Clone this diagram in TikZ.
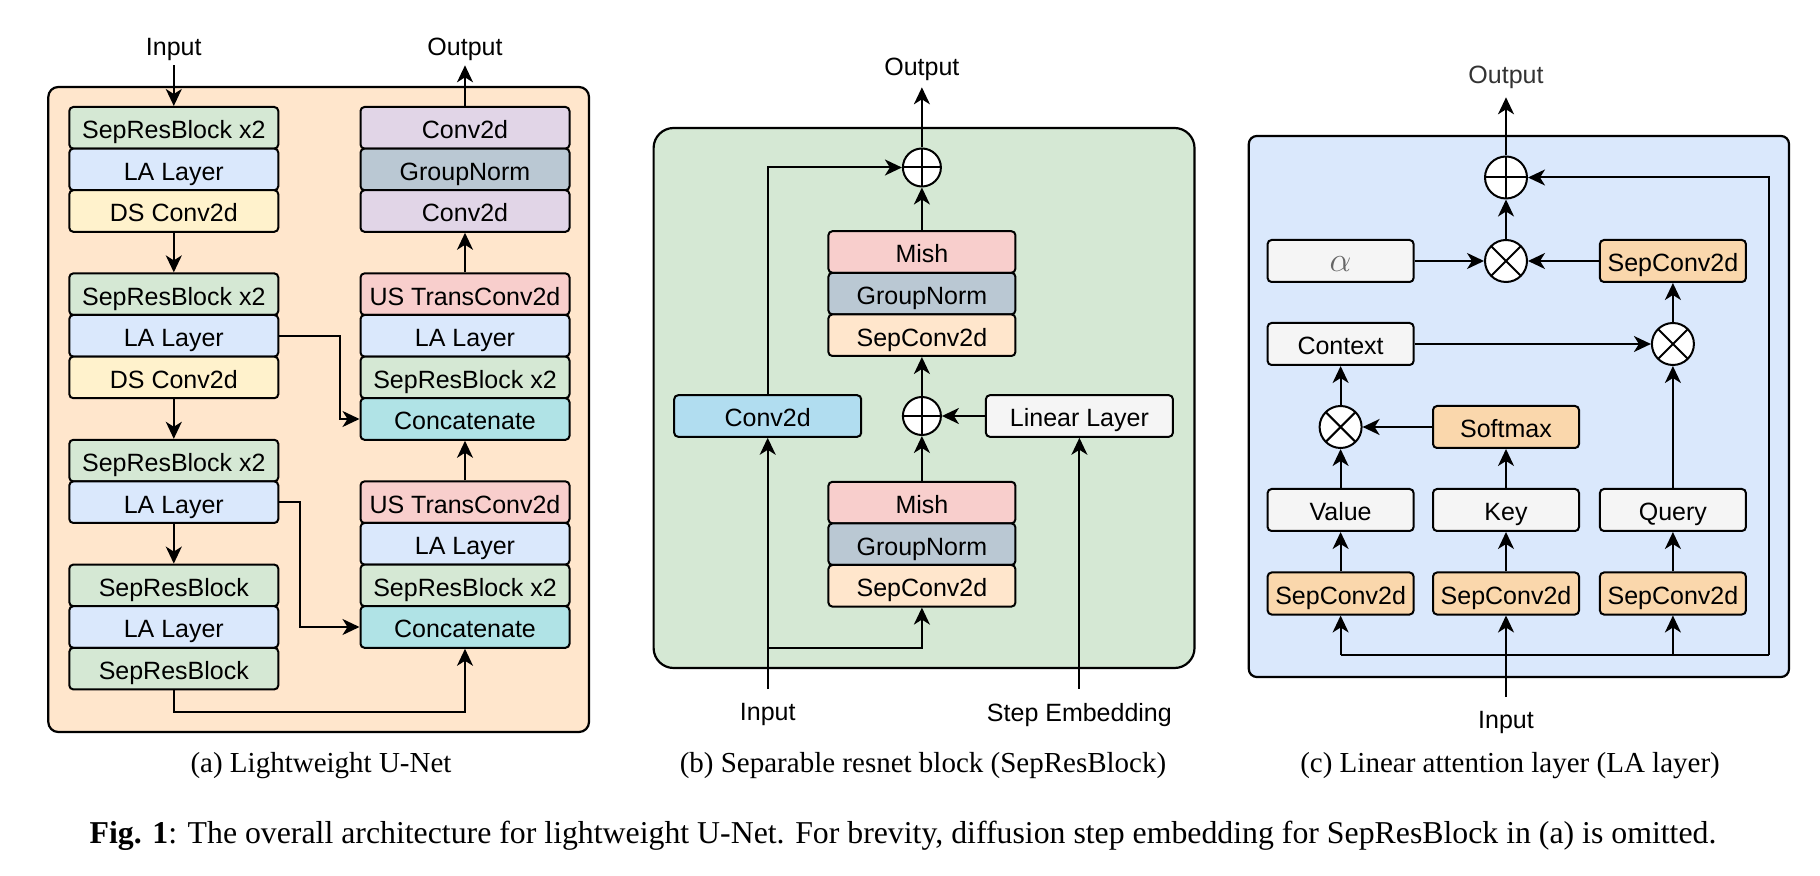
\documentclass[tikz,border=0pt]{standalone}
\usepackage{fontspec}
\setmainfont{Liberation Serif}
\setsansfont{Liberation Sans}
\usetikzlibrary{arrows.meta}

\definecolor{bgA}{HTML}{FFE6CC}
\definecolor{bgB}{HTML}{D5E8D4}
\definecolor{bgC}{HTML}{DAE8FC}
\definecolor{srbGreen}{HTML}{D5E8D4}
\definecolor{laBlue}{HTML}{DAE8FC}
\definecolor{dsYellow}{HTML}{FFF2CC}
\definecolor{convPurple}{HTML}{E1D5E7}
\definecolor{gnGray}{HTML}{BAC8D3}
\definecolor{usRed}{HTML}{F8CECC}
\definecolor{catTeal}{HTML}{B0E3E6}
\definecolor{sepPeach}{HTML}{FFE6CC}
\definecolor{convCyan}{HTML}{B1DDF0}
\definecolor{plainGray}{HTML}{F5F5F5}
\definecolor{sepOrange}{HTML}{FAD7AC}
\definecolor{alphaGray}{HTML}{666666}

\tikzset{
  blk/.style={draw, line width=1pt, rounded corners=2pt, inner sep=0pt,
    minimum height=20.8pt, text height=11.5pt, text depth=0.5pt,
    font=\sffamily\fontsize{12.5}{15}\selectfont},
  blkA/.style={blk, minimum width=104.5pt},
  blkB/.style={blk, minimum width=93.5pt},
  blkC/.style={blk, minimum width=73pt, minimum height=21pt},
  lbl/.style={font=\sffamily\fontsize{12.5}{15}\selectfont, inner sep=2pt},
  subcap/.style={font=\fontsize{14.5}{17}\selectfont},
  figcap/.style={font=\fontsize{15.9}{19}\selectfont},
  arr/.style={line width=1pt, -{Stealth[length=8.5pt,width=8pt,inset=2.5pt]}},
  wire/.style={line width=1pt},
  panel/.style={draw, line width=1.1pt, fill=#1},
  oplus/.style={circle, draw, line width=1pt, fill=white, minimum size=#1, inner sep=0pt,
    path picture={\draw[line width=1pt]
      (path picture bounding box.north) -- (path picture bounding box.south)
      (path picture bounding box.west) -- (path picture bounding box.east);}},
  otimes/.style={circle, draw, line width=1pt, fill=white, minimum size=#1, inner sep=0pt,
    path picture={\draw[line width=1pt]
      (path picture bounding box.north west) -- (path picture bounding box.south east)
      (path picture bounding box.north east) -- (path picture bounding box.south west);}}
}

\begin{document}
\begin{tikzpicture}[x=0.5pt, y=-0.5pt]
    \useasboundingbox (0,0) rectangle (1820,876);

    % (a) Lightweight U-Net
    \begin{scope}
        \draw[panel=bgA, rounded corners=5pt] (48.3,87) rectangle (589,732);
        \node[lbl] (inA) at (173.8,49.6) {Input};
        \node[lbl] (outA) at (465,49.6) {Output};

        % down path
        \node[blkA, fill=srbGreen] (e1a) at (173.8,127.8) {SepResBlock x2};
        \node[blkA, fill=laBlue] (e1b) at (173.8,169.4) {LA Layer};
        \node[blkA, fill=dsYellow] (e1c) at (173.8,211) {DS Conv2d};
        \node[blkA, fill=srbGreen] (e2a) at (173.8,294.2) {SepResBlock x2};
        \node[blkA, fill=laBlue] (e2b) at (173.8,335.8) {LA Layer};
        \node[blkA, fill=dsYellow] (e2c) at (173.8,377.4) {DS Conv2d};
        \node[blkA, fill=srbGreen] (e3a) at (173.8,460.6) {SepResBlock x2};
        \node[blkA, fill=laBlue] (e3b) at (173.8,502.2) {LA Layer};
        \node[blkA, fill=srbGreen] (m1) at (173.8,585.4) {SepResBlock};
        \node[blkA, fill=laBlue] (m2) at (173.8,627) {LA Layer};
        \node[blkA, fill=srbGreen] (m3) at (173.8,668.6) {SepResBlock};

        % up path
        \node[blkA, fill=convPurple] (o1) at (465,127.8) {Conv2d};
        \node[blkA, fill=gnGray] (o2) at (465,169.4) {GroupNorm};
        \node[blkA, fill=convPurple] (o3) at (465,211) {Conv2d};
        \node[blkA, fill=usRed] (d2a) at (465,294.2) {US TransConv2d};
        \node[blkA, fill=laBlue] (d2b) at (465,335.8) {LA Layer};
        \node[blkA, fill=srbGreen] (d2c) at (465,377.4) {SepResBlock x2};
        \node[blkA, fill=catTeal] (d2d) at (465,419) {Concatenate};
        \node[blkA, fill=usRed] (d1a) at (465,502.2) {US TransConv2d};
        \node[blkA, fill=laBlue] (d1b) at (465,543.8) {LA Layer};
        \node[blkA, fill=srbGreen] (d1c) at (465,585.4) {SepResBlock x2};
        \node[blkA, fill=catTeal] (d1d) at (465,627) {Concatenate};

        \draw[arr] (inA) -- (e1a);
        \draw[arr] (e1c) -- (e2a);
        \draw[arr] (e2c) -- (e3a);
        \draw[arr] (e3b) -- (m1);
        \draw[arr] (m3.south) -- ++(0,21.6) -| (d1d.south);
        \draw[arr] (e2b.east) -- ++(60.7,0) |- (d2d.west);
        \draw[arr] (e3b.east) -- ++(20.4,0) |- (d1d.west);
        \draw[arr] (d1a) -- (d2d);
        \draw[arr] (d2a) -- (o3);
        \draw[arr] (o1) -- (outA);

        \node[subcap] (capA) at (321,766) {(a) Lightweight U-Net};
    \end{scope}

    % (b) SepResBlock
    \begin{scope}
        \draw[panel=bgB, rounded corners=10pt] (653.6,128) rectangle (1194.5,668);
        \node[lbl, inner ysep=3pt] (outB) at (921.9,69.6) {Output};
        \node[oplus=19pt] (addTop) at (921.9,167.5) {};
        \node[blkB, fill=usRed] (u1) at (921.9,252) {Mish};
        \node[blkB, fill=gnGray] (u2) at (921.9,293.6) {GroupNorm};
        \node[blkB, fill=sepPeach] (u3) at (921.9,335.2) {SepConv2d};
        \node[oplus=19pt] (addMid) at (921.9,416) {};
        \node[blkB, fill=convCyan] (conv) at (767.7,416) {Conv2d};
        \node[blkB, fill=plainGray] (lin) at (1079.4,416) {Linear Layer};
        \node[blkB, fill=usRed] (l1) at (921.9,502.6) {Mish};
        \node[blkB, fill=gnGray] (l2) at (921.9,544.2) {GroupNorm};
        \node[blkB, fill=sepPeach] (l3) at (921.9,585.8) {SepConv2d};
        \node[lbl, inner ysep=7pt] (inB) at (767.7,714.6) {Input};
        \node[lbl, inner ysep=7pt] (stepB) at (1079.4,714.6) {Step Embedding};
        \coordinate (brB) at (767.7,648);

        \draw[arr] (addTop) -- (outB);
        \draw[arr] (u1) -- (addTop);
        \draw[arr] (addMid) -- (u3);
        \draw[arr] (l1) -- (addMid);
        \draw[arr] (lin) -- (addMid);
        \draw[arr] (inB) -- (conv);
        \draw[arr] (conv.north) |- (addTop.west);
        \draw[arr] (brB) -| (l3.south);
        \draw[arr] (stepB) -- (lin);

        \node[subcap] (capB) at (923,766) {(b) Separable resnet block (SepResBlock)};
    \end{scope}

    % (c) LA layer
    \begin{scope}
        \draw[panel=bgC, rounded corners=4pt] (1248.8,136) rectangle (1789,677);
        \node[lbl, inner ysep=4pt, text=black!80] (outC) at (1506,77.6) {Output};
        \node[oplus=21pt] (plusC) at (1506,177.5) {};
        \node[otimes=21pt] (mulTop) at (1506,261) {};
        \node[blkC, fill=plainGray] (alpha) at (1340.6,261) {\color{alphaGray}\fontsize{17}{17}\selectfont$\alpha$};
        \node[blkC, fill=sepOrange] (sepTop) at (1672.9,261) {SepConv2d};
        \node[blkC, fill=plainGray] (ctx) at (1340.6,344) {Context};
        \node[otimes=21pt] (mulMid) at (1672.9,344) {};
        \node[otimes=21pt] (mulLow) at (1340.6,427) {};
        \node[blkC, fill=sepOrange] (soft) at (1506,427) {Softmax};
        \node[blkC, fill=plainGray] (val) at (1340.6,510) {Value};
        \node[blkC, fill=plainGray] (key) at (1506,510) {Key};
        \node[blkC, fill=plainGray] (qry) at (1672.9,510) {Query};
        \node[blkC, fill=sepOrange] (sv) at (1340.6,593.5) {SepConv2d};
        \node[blkC, fill=sepOrange] (sk) at (1506,593.5) {SepConv2d};
        \node[blkC, fill=sepOrange] (sq) at (1672.9,593.5) {SepConv2d};
        \node[lbl, inner ysep=7pt] (inC) at (1506,722.6) {Input};
        \coordinate (busL) at (1340.6,655);
        \coordinate (busQ) at (1672.9,655);
        \coordinate (busR) at (1769.2,655);

        \draw[arr] (plusC) -- (outC);
        \draw[arr] (mulTop) -- (plusC);
        \draw[arr] (alpha) -- (mulTop);
        \draw[arr] (sepTop) -- (mulTop);
        \draw[arr] (mulMid) -- (sepTop);
        \draw[arr] (ctx) -- (mulMid);
        \draw[arr] (mulLow) -- (ctx);
        \draw[arr] (soft) -- (mulLow);
        \draw[arr] (val) -- (mulLow);
        \draw[arr] (key) -- (soft);
        \draw[arr] (qry) -- (mulMid);
        \draw[arr] (sv) -- (val);
        \draw[arr] (sk) -- (key);
        \draw[arr] (sq) -- (qry);
        \draw[arr] (inC) -- (sk);
        \draw[wire] (busL) -- (busR);
        \draw[arr] (busL) -- (sv);
        \draw[arr] (busQ) -- (sq);
        \draw[arr] (busR) |- (plusC.east);

        \node[subcap] (capC) at (1510,766) {(c) Linear attention layer (LA layer)};
    \end{scope}

    \node[figcap] (figCap) at (903,836) {\textbf{Fig. 1}: The overall architecture for lightweight U-Net. For brevity, diffusion step embedding for SepResBlock in (a) is omitted.};
\end{tikzpicture}
\end{document}
